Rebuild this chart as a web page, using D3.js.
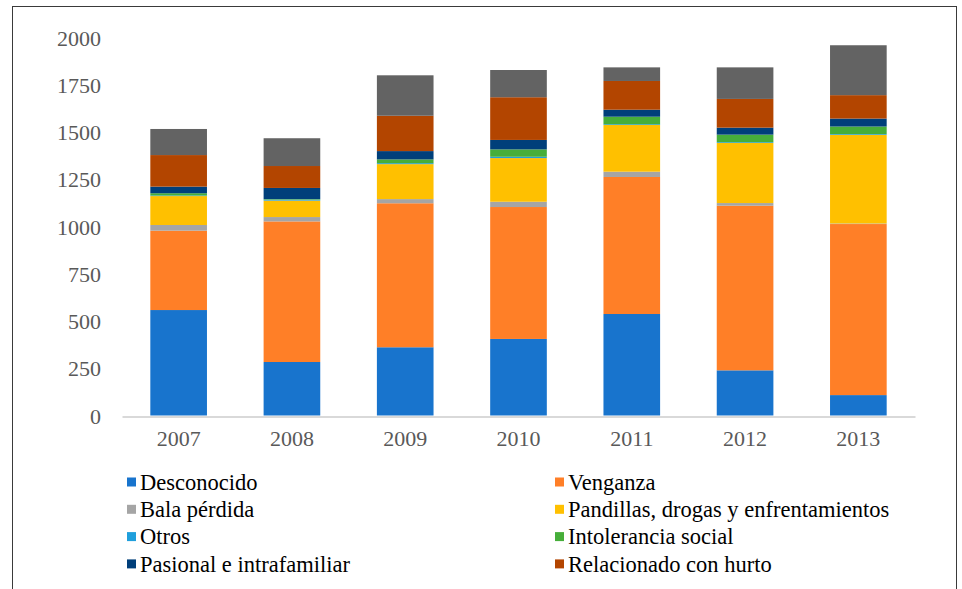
<!DOCTYPE html>
<meta http-equiv="content-type" content="text/html; charset=utf-8">
<style>
body { margin: 0; background: #fff; }
#frame {
  position: absolute;
  left: 12px; top: 6px;
  width: 943px; height: 600px;
  border: 1.5px solid #3a3a3a;
  border-bottom: none;
}
svg { position: absolute; left: 0; top: 0; }
</style>
<body>
<div id="frame"></div>
<script src="https://d3js.org/d3.v7.min.js"></script>
<script>
var years = ["2007", "2008", "2009", "2010", "2011", "2012", "2013"];

var desconocido  = [558, 283, 361, 405, 537, 239, 108];
var venganza     = [420, 744, 762, 698, 725, 871, 905];
var balaPerdida  = [30, 23, 22, 28, 28, 14, 3];
var pandillas    = [153, 87, 185, 231, 247, 318, 469];
var otros        = [3, 5, 5, 7, 4, 4, 4];
var intolerancia = [12, 3, 20, 39, 40, 40, 40];
var pasional     = [35, 59, 44, 50, 37, 37, 42];
var hurto        = [167, 116, 187, 226, 152, 152, 124];
var sinDato      = [138, 147, 214, 144, 72, 167, 264];

var yTicks = [0, 250, 500, 750, 1000, 1250, 1500, 1750, 2000];

var series = [
  {name: "Desconocido", values: desconocido, color: "#1874cd", legend: true},
  {name: "Venganza", values: venganza, color: "#ff7f27", legend: true},
  {name: "Bala pérdida", values: balaPerdida, color: "#a5a5a5", legend: true},
  {name: "Pandillas, drogas y enfrentamientos", values: pandillas, color: "#ffc000", legend: true},
  {name: "Otros", values: otros, color: "#1f9fdc", legend: true},
  {name: "Intolerancia social", values: intolerancia, color: "#46ae3a", legend: true},
  {name: "Pasional e intrafamiliar", values: pasional, color: "#003f7a", legend: true},
  {name: "Relacionado con hurto", values: hurto, color: "#b34500", legend: true},
  {name: "Sin información", values: sinDato, color: "#636363", legend: false}
];

var width = 962, height = 589;
var serif = "'Liberation Serif', 'Times New Roman', serif";

var svg = d3.select("body").append("svg")
    .attr("width", width)
    .attr("height", height);

var x = d3.scaleBand()
    .domain(years)
    .range([122, 915])
    .paddingInner(0.5)
    .paddingOuter(0.25);

var y = d3.scaleLinear()
    .domain([0, 2000])
    .range([415.5, 37.5]);

// table for the stack
var table = years.map(function(yr, i) {
  var row = {year: yr};
  series.forEach(function(s) { row[s.name] = s.values[i]; });
  return row;
});

var stack = d3.stack().keys(series.map(function(s) { return s.name; }));
var layers = stack(table);

svg.append("g")
  .selectAll("g")
  .data(layers)
  .enter().append("g")
    .attr("fill", function(d, i) { return series[i].color; })
  .selectAll("rect")
  .data(function(d) { return d; })
  .enter().append("rect")
    .attr("x", function(d) { return x(d.data.year); })
    .attr("width", x.bandwidth())
    .attr("y", function(d) { return y(d[1]); })
    .attr("height", function(d) { return y(d[0]) - y(d[1]); });

// y axis, labels only
var gy = svg.append("g")
    .attr("transform", "translate(101,0)")
    .call(d3.axisLeft(y).tickValues(yTicks).tickFormat(d3.format("d")).tickSize(0).tickPadding(0))
    .attr("font-family", serif)
    .attr("font-size", 22);
gy.select(".domain").remove();
gy.selectAll(".tick text").attr("dy", "0.35em").attr("fill", "#595959");

// x axis
var gx = svg.append("g")
    .attr("transform", "translate(0,416.5)")
    .call(d3.axisBottom(x).tickSize(0).tickPadding(14))
    .attr("font-family", serif)
    .attr("font-size", 22);
gx.select(".domain").attr("stroke", "#d9d9d9").attr("stroke-width", 2);
gx.selectAll(".tick text").attr("fill", "#595959");

// legend, two columns read row-wise
var legendItems = series.filter(function(s) { return s.legend; });
var legend = svg.append("g")
    .attr("font-family", serif)
    .attr("font-size", 22.5)
  .selectAll("g")
  .data(legendItems)
  .enter().append("g")
    .attr("transform", function(d, i) {
      var col = i % 2, row = Math.floor(i / 2);
      return "translate(" + (col ? 555 : 127) + "," + (482 + row * 27.3) + ")";
    });

legend.append("rect")
    .attr("x", 0).attr("y", -4.5)
    .attr("width", 9).attr("height", 9)
    .attr("fill", function(d) { return d.color; });

legend.append("text")
    .attr("x", 13)
    .attr("dy", "0.35em")
    .attr("fill", "#000")
    .text(function(d) { return d.name; });
</script>
</body>
</html>
